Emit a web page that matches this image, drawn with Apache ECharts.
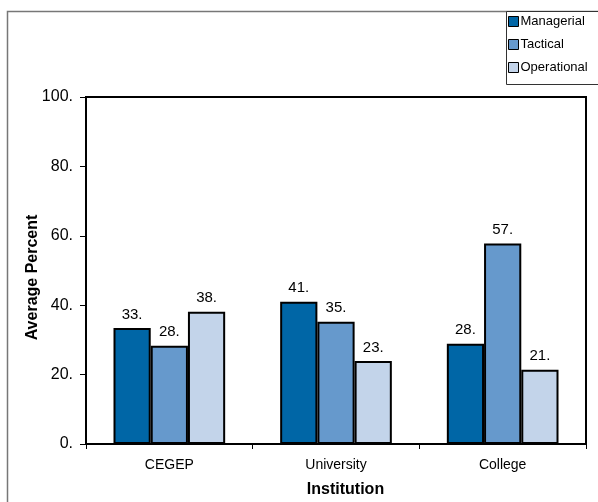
<!DOCTYPE html>
<html>
<head>
<meta charset="utf-8">
<script src="https://cdn.jsdelivr.net/npm/echarts@6/dist/echarts.min.js"></script>
<style>
  html, body { margin: 0; padding: 0; background: #fff; }
  #chart { width: 598px; height: 502px; }
</style>
</head>
<body>
<div id="chart"></div>
<script>
// Institutions along the x axis
const institutions = ['CEGEP', 'University', 'College'];
// Average percent by decision level
const managerial = [33.4, 41.0, 28.9];
const tactical = [28.3, 35.2, 57.8];
const operational = [38.1, 23.9, 21.4];
// Y axis ticks
const yTicks = [0, 20, 40, 60, 80, 100];

const FONT = 'Liberation Sans, Arial, sans-serif';
const colors = ['#0066a6', '#6699cc', '#c3d4ea'];

const fmt = v => Math.floor(v) + '.';

function barSeries(name, data, color) {
  return {
    name: name,
    type: 'bar',
    data: data,
    barGap: '0%',
    barCategoryGap: '33%',
    itemStyle: { color: color, borderColor: '#000', borderWidth: 2 },
    label: {
      show: true,
      position: 'top',
      distance: 6,
      formatter: p => fmt(p.value),
      fontFamily: FONT,
      fontSize: 15,
      color: '#000'
    }
  };
}

const chart = echarts.init(document.getElementById('chart'), null, { renderer: 'canvas' });
chart.setOption({
  backgroundColor: '#fff',
  animation: false,
  grid: {
    left: 86, top: 97, right: 12, bottom: 58,
    outerBoundsMode: 'none',
    containLabel: false,
    show: true, borderColor: '#000', borderWidth: 2
  },
  graphic: [
    { type: 'polyline', shape: { points: [[7.5, 502], [7.5, 11.5], [598, 11.5]] },
      style: { stroke: '#777', lineWidth: 1.5, fill: null }, z: 0 },
    { type: 'rect', shape: { x: 506.5, y: 11.5, width: 110, height: 73 },
      style: { stroke: '#333', lineWidth: 1, fill: '#fff' }, z: 1 }
  ],
  legend: {
    orient: 'vertical',
    left: 508,
    top: 15,
    padding: 0,
    itemGap: 10,
    itemWidth: 10,
    itemHeight: 10,
    icon: 'rect',
    itemStyle: { borderColor: '#000', borderWidth: 1 },
    textStyle: { fontFamily: FONT, fontSize: 13, color: '#000', padding: [0, 0, 0, -3] },
    z: 5
  },
  xAxis: {
    type: 'category',
    data: institutions,
    name: 'Institution',
    nameLocation: 'middle',
    nameGap: 38,
    nameMoveOverlap: false,
    nameTextStyle: { fontFamily: FONT, fontSize: 16, fontWeight: 'bold', color: '#000', padding: [0, 0, 0, 19] },
    axisLine: { lineStyle: { color: '#000', width: 2 } },
    axisTick: { show: true, length: 5, lineStyle: { color: '#000', width: 1 } },
    axisLabel: { fontFamily: FONT, fontSize: 14, color: '#000', margin: 14 }
  },
  yAxis: {
    type: 'value',
    min: yTicks[0],
    max: yTicks[yTicks.length - 1],
    interval: yTicks[1] - yTicks[0],
    name: 'Average Percent',
    nameLocation: 'middle',
    nameGap: 45,
    nameMoveOverlap: false,
    nameTextStyle: { fontFamily: FONT, fontSize: 16, fontWeight: 'bold', color: '#000', padding: [0, 14, 0, 0] },
    splitLine: { show: false },
    axisLine: { show: true, lineStyle: { color: '#000', width: 2 } },
    axisTick: { show: true, length: 6, lineStyle: { color: '#000', width: 1 } },
    axisLabel: { fontFamily: FONT, fontSize: 16, color: '#000', margin: 13, formatter: v => v + '.' }
  },
  series: [
    barSeries('Managerial', managerial, colors[0]),
    barSeries('Tactical', tactical, colors[1]),
    barSeries('Operational', operational, colors[2])
  ]
});
</script>
</body>
</html>
